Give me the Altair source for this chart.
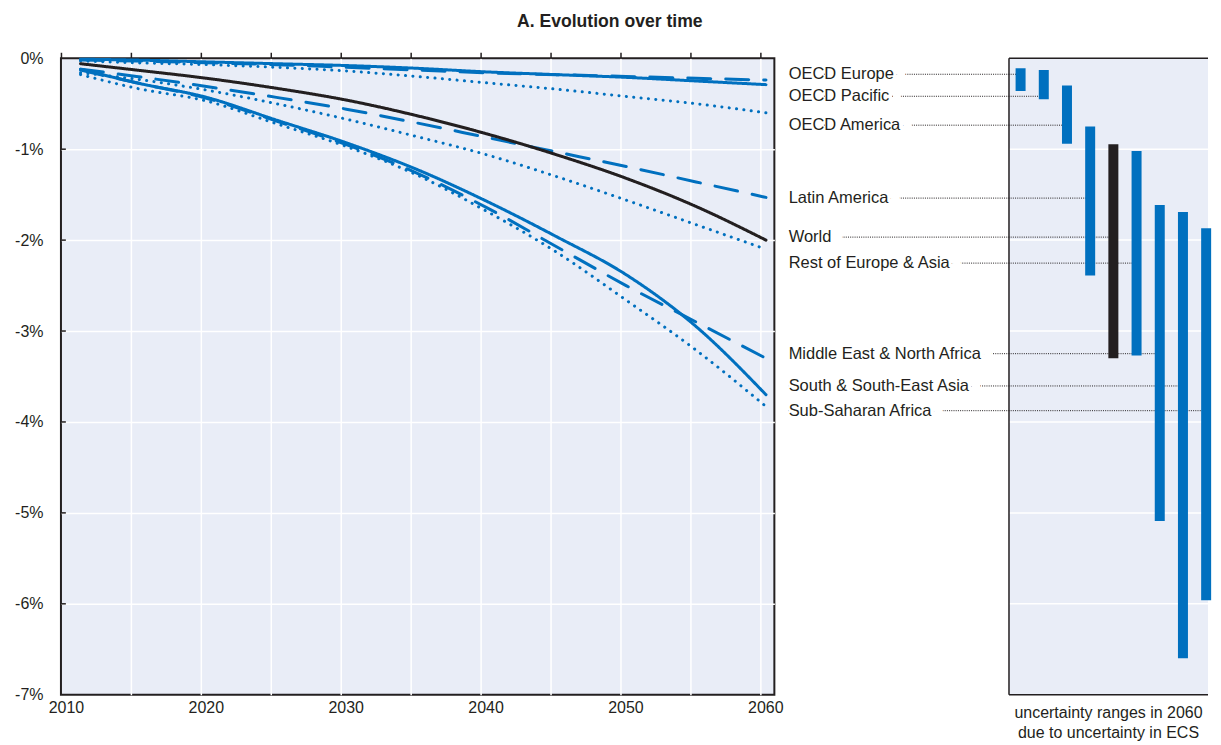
import altair as alt
import pandas as pd

BLUE = "#0070BF"
BLACK = "#231F20"
BG = "#E9EDF7"
FONT = "Liberation Sans"

years = [2011, 2015, 2020, 2025, 2030, 2035, 2040, 2045, 2050, 2055, 2060]
regions = ["OECD Europe", "OECD Pacific", "OECD America", "Latin America", "World",
           "Rest of Europe & Asia", "Middle East & North Africa",
           "South & South-East Asia", "Sub-Saharan Africa"]
line_styles = ["solid", "dashed", "dotted", "dashed", "world",
               "dotted", "dashed", "solid", "dotted"]

oecd_europe = [-0.01, -0.02, -0.04, -0.06, -0.08, -0.11, -0.15, -0.18, -0.21, -0.25, -0.29]
oecd_pacific = [-0.02, -0.03, -0.05, -0.07, -0.10, -0.13, -0.16, -0.18, -0.20, -0.22, -0.24]
oecd_america = [-0.03, -0.05, -0.07, -0.10, -0.14, -0.20, -0.27, -0.34, -0.42, -0.50, -0.60]
latin_america = [-0.12, -0.20, -0.31, -0.43, -0.56, -0.71, -0.87, -1.03, -1.19, -1.36, -1.53]
world = [-0.06, -0.13, -0.22, -0.33, -0.46, -0.63, -0.83, -1.06, -1.32, -1.63, -2.00]
rest_europe_asia = [-0.16, -0.23, -0.35, -0.50, -0.67, -0.86, -1.06, -1.30, -1.56, -1.83, -2.10]
mena = [-0.13, -0.27, -0.44, -0.69, -0.95, -1.26, -1.64, -2.07, -2.50, -2.90, -3.30]
south_asia = [-0.12, -0.27, -0.43, -0.68, -0.93, -1.22, -1.57, -1.96, -2.38, -2.95, -3.70]
ssa = [-0.18, -0.33, -0.47, -0.72, -0.97, -1.28, -1.68, -2.13, -2.66, -3.21, -3.83]
series = [oecd_europe, oecd_pacific, oecd_america, latin_america, world,
          rest_europe_asia, mena, south_asia, ssa]

# uncertainty ranges in 2060 (right panel)
range_top = [-0.11, -0.13, -0.30, -0.75, -0.945, -1.02, -1.615, -1.69, -1.87]
range_bottom = [-0.36, -0.45, -0.94, -2.39, -3.30, -3.27, -5.09, -6.60, -5.96]
label_y = [-0.176, -0.418, -0.736, -1.538, -1.967, -2.253, -3.249, -3.604, -3.876]

x_ticks = list(range(2010, 2061, 5))
y_ticks = [0, -1, -2, -3, -4, -5, -6, -7]
caption = ["uncertainty ranges in 2060", "due to uncertainty in ECS"]
title_text = "A. Evolution over time"

style_domain = ["solid", "dashed", "dotted", "world"]
style_colors = [BLUE, BLUE, BLUE, BLACK]
style_dashes = [[1, 0], [23, 15], [0.1, 7.3], [1, 0]]

# ---------- tables ----------
line_rows = []
for reg, sty, vals in zip(regions, line_styles, series):
    for yr, v in zip(years, vals):
        line_rows.append({"region": reg, "style": sty, "year": yr, "value": v})
line_df = pd.DataFrame(line_rows)

ytick_df = pd.DataFrame({"tick": y_ticks[1:-1], "x0": 2010, "x1": 2010.35})

bar_df = pd.DataFrame({
    "idx": list(range(len(regions))),
    "region": regions,
    "top": range_top,
    "bottom": range_bottom,
    "kind": ["world" if r == "World" else "region" for r in regions],
    "label_y": label_y,
})

LABEL_X = -10.0
X_MIN, X_MAX = -10.4, 8.08
PANEL_L = -0.5
bar_df["label_x"] = LABEL_X

panel_df = pd.DataFrame({"l": [PANEL_L], "r": [X_MAX], "t": [0], "b": [-7]})
grid_df = pd.DataFrame({"g": y_ticks[1:-1], "l": PANEL_L, "r": X_MAX})
cap_df = pd.DataFrame({"x": [3.79], "y": [-7], "text": ["\n".join(caption)]})

# ---------- left panel ----------
xscale = alt.Scale(domain=[2010, 2061], nice=False, zero=False)
yscale = alt.Scale(domain=[-7, 0], nice=False, zero=False)

lines = alt.Chart(line_df).transform_calculate(
    xpos="datum.year + 0.4"  # annual values plotted at mid-year
).mark_line(
    strokeWidth=3, strokeCap="round", interpolate="monotone"
).encode(
    x=alt.X("xpos:Q", scale=xscale, axis=alt.Axis(
        orient="bottom", values=x_ticks, title=None, ticks=False, domain=False,
        labelExpr="datum.value % 10 == 0 ? '' + datum.value : ''", labelFlush=False,
        labelFontSize=16, labelColor=BLACK, labelPadding=5, labelOffset=5,
        grid=True, gridColor="white", gridWidth=1.5,
        gridOpacity={"condition": {"test": "datum.value == 2010", "value": 0}, "value": 1},
    )),
    y=alt.Y("value:Q", scale=yscale, axis=alt.Axis(
        orient="left", values=y_ticks, title=None, ticks=False, domain=False,
        labelExpr="(datum.value < 0 ? '-' : '') + abs(datum.value) + '%'", labelFlush=False,
        labelFontSize=16, labelColor=BLACK, labelPadding=18,
        grid=True, gridColor="white", gridWidth=1.5,
        gridOpacity={"condition": {"test": "datum.value == 0 || datum.value == -7", "value": 0}, "value": 1},
    )),
    color=alt.Color("style:N", scale=alt.Scale(domain=style_domain, range=style_colors), legend=None),
    strokeDash=alt.StrokeDash("style:N", scale=alt.Scale(domain=style_domain, range=style_dashes), legend=None),
    detail="region:N",
)

inner_ticks = alt.Chart(ytick_df).mark_rule(color=BLACK, strokeWidth=1.5).encode(
    x=alt.X("x0:Q", scale=xscale, axis=alt.Axis(
        orient="top", values=x_ticks, title=None, labels=False, domain=False, grid=False,
        ticks=True, tickSize=6, tickColor=BLACK, tickWidth=1.5,
    )),
    x2="x1:Q",
    y=alt.Y("tick:Q", scale=yscale),
)

left = alt.layer(lines, inner_ticks).resolve_axis(x="independent").properties(
    width=714, height=637,
    view=alt.ViewBackground(fill=BG, stroke=BLACK, strokeWidth=2),
)

# ---------- right panel ----------
rx = alt.Scale(domain=[X_MIN, X_MAX], nice=False, zero=False)
ry = alt.Scale(domain=[-7, 0], nice=False, zero=False)

panel = alt.Chart(panel_df).mark_rect(fill=BG).encode(
    x=alt.X("l:Q", scale=rx, axis=None), x2="r:Q",
    y=alt.Y("t:Q", scale=ry, axis=None), y2="b:Q",
)
grid = alt.Chart(grid_df).mark_rule(color="white", strokeWidth=1.5).encode(
    x=alt.X("l:Q", scale=rx, axis=None), x2="r:Q",
    y=alt.Y("g:Q", scale=ry, axis=None),
)
frame_left = alt.Chart(panel_df).mark_rule(color=BLACK, strokeWidth=1.5).encode(
    x=alt.X("l:Q", scale=rx, axis=None),
    y=alt.Y("t:Q", scale=ry, axis=None), y2="b:Q",
)
frame_top = alt.Chart(panel_df).mark_rule(color=BLACK, strokeWidth=1.5).encode(
    x=alt.X("l:Q", scale=rx, axis=None), x2="r:Q",
    y=alt.Y("t:Q", scale=ry, axis=None),
)
frame_bottom = alt.Chart(panel_df).mark_rule(color=BLACK, strokeWidth=1.5).encode(
    x=alt.X("l:Q", scale=rx, axis=None), x2="r:Q",
    y=alt.Y("b:Q", scale=ry, axis=None),
)
leaders = alt.Chart(bar_df).mark_rule(color=BLACK, strokeWidth=1, strokeDash=[1, 1.2]).encode(
    x=alt.X("label_x:Q", scale=rx, axis=None), x2="idx:Q",
    y=alt.Y("label_y:Q", scale=ry, axis=None),
)
bars = alt.Chart(bar_df).mark_bar(size=10, clip=True).encode(
    x=alt.X("idx:Q", scale=rx, axis=None),
    y=alt.Y("top:Q", scale=ry, axis=None), y2="bottom:Q",
    color=alt.Color("kind:N", scale=alt.Scale(domain=["region", "world"], range=[BLUE, BLACK]), legend=None),
)
halo = alt.Chart(bar_df).mark_text(
    align="left", baseline="middle", fontSize=16.5, fill="white", stroke="white",
    strokeWidth=24, strokeJoin="round",
).encode(
    x=alt.X("label_x:Q", scale=rx, axis=None),
    y=alt.Y("label_y:Q", scale=ry, axis=None),
    text="region:N",
)
labels = alt.Chart(bar_df).mark_text(
    align="left", baseline="middle", fontSize=16.5, color=BLACK,
).encode(
    x=alt.X("label_x:Q", scale=rx, axis=None),
    y=alt.Y("label_y:Q", scale=ry, axis=None),
    text="region:N",
)
cap = alt.Chart(cap_df).mark_text(
    align="center", baseline="top", fontSize=16, color=BLACK, lineBreak="\n",
    lineHeight=20, dy=10,
).encode(
    x=alt.X("x:Q", scale=rx, axis=None),
    y=alt.Y("y:Q", scale=ry, axis=None),
    text="text:N",
)

right = alt.layer(panel, grid, frame_left, frame_top, frame_bottom, leaders, bars,
                  halo, labels, cap).properties(width=439, height=637)

chart = alt.hconcat(left, right, spacing=0, bounds="flush").properties(
    title=alt.TitleParams(title_text, fontSize=17.6, fontWeight="bold", anchor="middle",
                          color=BLACK, offset=19, dx=-3.5, font=FONT),
    padding={"left": 5, "top": 4, "right": 0, "bottom": 0},
).configure(font=FONT).configure_view(stroke=None)

chart.save("out.html", embed_options={"renderer": "svg", "actions": False})
